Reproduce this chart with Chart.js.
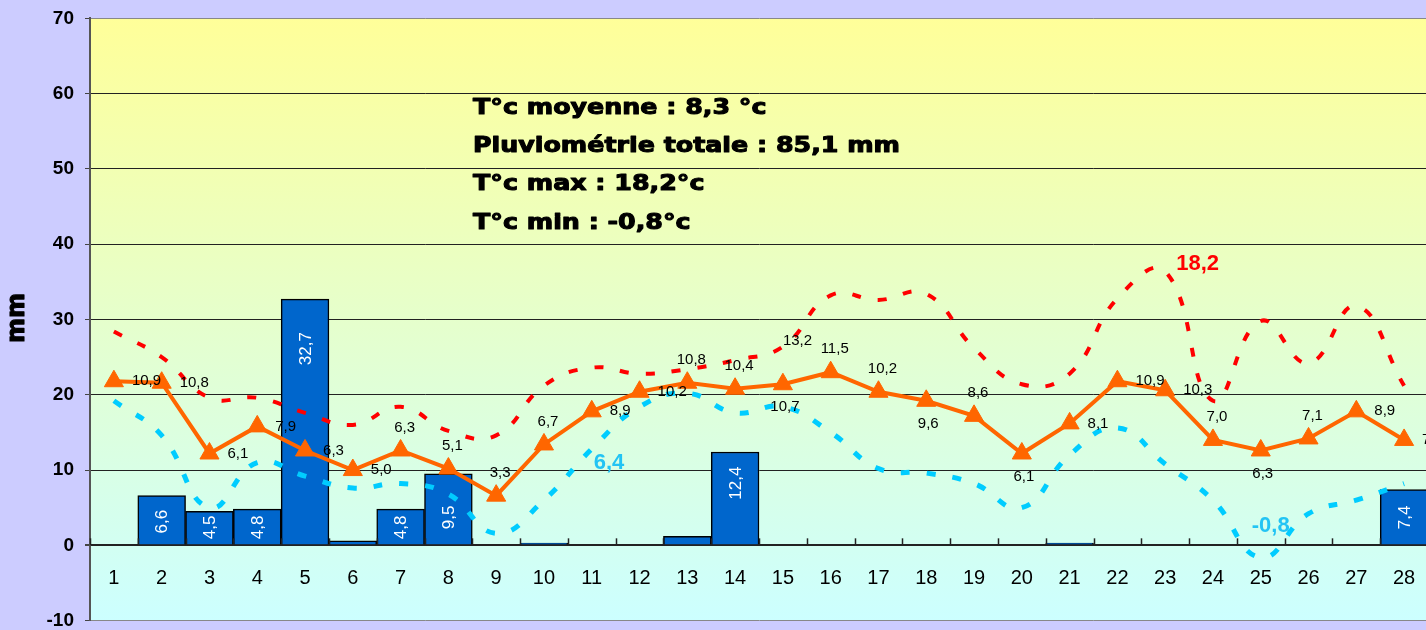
<!DOCTYPE html>
<html>
<head>
<meta charset="utf-8">
<script src="https://cdn.jsdelivr.net/npm/chart.js"></script>
<style>
  html, body { margin: 0; padding: 0; background: #ccccff; overflow: hidden; }
  #wrap { width: 1440px; height: 647px; margin-top: -4px; }
</style>
</head>
<body>
<div id="wrap"><canvas id="myChart" width="1440" height="647"></canvas></div>
<script>
// daily values (one entry per day)
var days = ["1","2","3","4","5","6","7","8","9","10","11","12","13","14",
            "15","16","17","18","19","20","21","22","23","24","25","26","27","28"];
var rain = [null, 6.6, 4.5, 4.8, 32.7, 0.6, 4.8, 9.5, null, 0.3, null, null, 1.2, 12.4,
            null, null, null, null, null, null, 0.3, null, null, null, null, null, null, 7.4];
var tMean = [10.9, 10.8, 6.1, 7.9, 6.3, 5.0, 6.3, 5.1, 3.3, 6.7, 8.9, 10.2, 10.8, 10.4,
             10.7, 11.5, 10.2, 9.6, 8.6, 6.1, 8.1, 10.9, 10.3, 7.0, 6.3, 7.1, 8.9, 7.0];
var tMax = [14.2, 12.5, 9.8, 9.8, 8.8, 8.0, 9.2, 7.6, 7.3, 10.6, 11.8, 11.4, 11.7, 12.3,
            13.2, 16.6, 16.3, 16.7, 13.1, 10.7, 11.4, 16.4, 18.2, 9.6, 14.9, 12.1, 15.9, 10.6];
var tMin = [9.6, 7.3, 2.5, 5.5, 4.6, 3.8, 4.1, 3.4, 0.8, 3.0, 6.4, 9.2, 10.1, 8.8,
            9.2, 7.5, 5.1, 4.8, 4.1, 2.5, 6.0, 7.8, 5.4, 3.0, -0.8, 2.1, 3.0, 4.1];
var summary = ["T°c moyenne : 8,3 °c", "Pluviométrie totale : 85,1 mm",
               "T°c max : 18,2°c", "T°c min : -0,8°c"];
// where each mean label sits: r = right, a = above, b = below
var meanPos = ["r","r","r","r","r","r","a","a","a","a","r","r","a","a",
               "b","a","a","b","a","b","r","r","r","a","b","a","r","r"];

function fr(v) { return v.toFixed(1).replace(".", ","); }

// yellow -> cyan background inside the plot
var bgPlugin = {
  id: "bg",
  beforeDraw: function (chart) {
    var a = chart.chartArea, c = chart.ctx;
    var g = c.createLinearGradient(0, a.top, 0, a.bottom);
    g.addColorStop(0, "#ffff99");
    g.addColorStop(1, "#ccffff");
    c.save();
    c.fillStyle = g;
    c.fillRect(a.left, a.top, a.right - a.left, a.bottom - a.top);
    c.restore();
  }
};

var labelPlugin = {
  id: "labels",
  afterDatasetsDraw: function (chart) {
    var c = chart.ctx;
    var xs = chart.scales.x, ys = chart.scales.y;
    var y0 = ys.getPixelForValue(0);
    c.save();

    // small tick marks going up from the zero line + day numbers below it
    c.strokeStyle = "#222";
    c.lineWidth = 1.5;
    var step = (xs.right - xs.left) / days.length;
    for (var i = 0; i <= days.length; i++) {
      var tx = Math.round(xs.left + i * step) + 0.5;
      c.beginPath(); c.moveTo(tx, y0); c.lineTo(tx, y0 - 7); c.stroke();
    }
    c.fillStyle = "#000";
    c.font = "20px 'Liberation Sans', Arial, sans-serif";
    c.textAlign = "center";
    c.textBaseline = "middle";
    days.forEach(function (d, i) {
      c.fillText(d, xs.getPixelForTick(i), y0 + 33);
    });

    // rain values, white, rotated inside the bars
    var bars = chart.getDatasetMeta(0).data;
    c.fillStyle = "#ffffff";
    c.font = "17px 'Liberation Sans', Arial, sans-serif";
    rain.forEach(function (v, i) {
      if (v == null || v < 2) return;
      var b = bars[i];
      var h = y0 - b.y;
      var cy = b.y + 20 + 0.12 * h;
      if (h < 80) cy = Math.min(Math.max(cy, y0 - 28), y0 - 18);
      c.save();
      c.translate(b.x + 1, cy);
      c.rotate(-Math.PI / 2);
      c.fillText(fr(v), 0, 0);
      c.restore();
    });

    // mean temperature labels
    var pts = chart.getDatasetMeta(1).data;
    c.fillStyle = "#000";
    c.font = "15px 'Liberation Sans', Arial, sans-serif";
    tMean.forEach(function (v, i) {
      var p = pts[i];
      if (meanPos[i] === "r") {
        c.textAlign = "left";
        c.fillText(fr(v), p.x + 18, p.y);
      } else if (meanPos[i] === "a") {
        c.textAlign = "center";
        c.fillText(fr(v), p.x + 4, p.y - 23);
      } else {
        c.textAlign = "center";
        c.fillText(fr(v), p.x + 2, p.y + 23);
      }
    });

    // a few labels on the max / min curves
    var mx = chart.getDatasetMeta(2).data, mn = chart.getDatasetMeta(3).data;
    c.textAlign = "left";
    c.fillText(fr(tMax[14]), mx[14].x, mx[14].y - 6);
    c.fillStyle = "#ff0000";
    c.font = "bold 22px 'Liberation Sans', Arial, sans-serif";
    c.fillText(fr(tMax[22]), mx[22].x + 11, mx[22].y - 7);
    c.fillStyle = "#22c4f4";
    c.fillText(fr(tMin[10]), mn[10].x + 2, mn[10].y + 14);
    c.textAlign = "center";
    c.fillText(fr(tMin[24]), mn[24].x + 10, mn[24].y - 31);
    c.restore();
  },
  afterDraw: function (chart) {
    var c = chart.ctx;
    c.save();
    c.fillStyle = "#000";
    c.strokeStyle = "#000";
    c.lineWidth = 1.1;
    c.lineJoin = "round";
    c.textBaseline = "middle";
    c.textAlign = "left";
    c.font = "bold 22px 'DejaVu Sans', sans-serif";
    var sx = 427 / c.measureText(summary[1]).width;
    summary.forEach(function (s, i) {
      c.save();
      c.translate(473, 112 + i * 38.3);
      c.scale(sx, 1);
      c.fillText(s, 0, 0);
      c.strokeText(s, 0, 0);
      c.restore();
    });
    // axis title
    c.font = "bold 24px 'DejaVu Sans', sans-serif";
    c.textAlign = "center";
    c.translate(18, 322);
    c.rotate(-Math.PI / 2);
    c.fillText("mm", 0, 0);
    c.strokeText("mm", 0, 0);
    c.restore();
  }
};

new Chart("myChart", {
  data: {
    labels: days,
    datasets: [{
      type: "bar",
      data: rain,
      yAxisID: "y",
      backgroundColor: "#0066cc",
      borderColor: "#000000",
      borderWidth: 1.5,
      barPercentage: 1,
      categoryPercentage: 1,
      order: 4
    }, {
      type: "line",
      data: tMean,
      yAxisID: "y2",
      borderColor: "#ff6600",
      backgroundColor: "#ff6600",
      borderWidth: 4,
      pointStyle: "triangle",
      pointRadius: 11,
      pointBorderWidth: 1,
      tension: 0,
      order: 1
    }, {
      type: "line",
      data: tMax,
      yAxisID: "y2",
      borderColor: "#ff0000",
      borderWidth: 4,
      borderDash: [9, 17],
      pointRadius: 0,
      tension: 0.45,
      order: 2
    }, {
      type: "line",
      data: tMin,
      yAxisID: "y2",
      borderColor: "#00ccff",
      borderWidth: 5,
      borderDash: [9, 17],
      pointRadius: 0,
      tension: 0.45,
      order: 3
    }]
  },
  options: {
    responsive: false,
    animation: false,
    layout: { padding: { top: 14, bottom: 10, left: 0, right: 0 } },
    plugins: { legend: { display: false }, tooltip: { enabled: false } },
    scales: {
      x: {
        offset: true,
        grid: { display: false, drawTicks: false },
        border: { display: false },
        ticks: { display: false }
      },
      y: {
        min: -10,
        max: 70,
        afterFit: function (s) { s.width = 90; },
        ticks: {
          stepSize: 10,
          color: "#000",
          padding: 11,
          font: { family: "'Liberation Sans', Arial, sans-serif", size: 19, weight: "bold" }
        },
        grid: {
          color: function (ctx) {
            var v = ctx.tick && ctx.tick.value;
            return (v === 70 || v === -10) ? "#888888" : "#222222";
          },
          lineWidth: function (ctx) { return ctx.tick && ctx.tick.value === 0 ? 2 : 1; },
          tickLength: 5,
          tickColor: "#444"
        },
        border: { color: "#555", width: 2 }
      },
      y2: { min: -5, max: 35, display: false }
    }
  },
  plugins: [bgPlugin, labelPlugin]
});
</script>
</body>
</html>
